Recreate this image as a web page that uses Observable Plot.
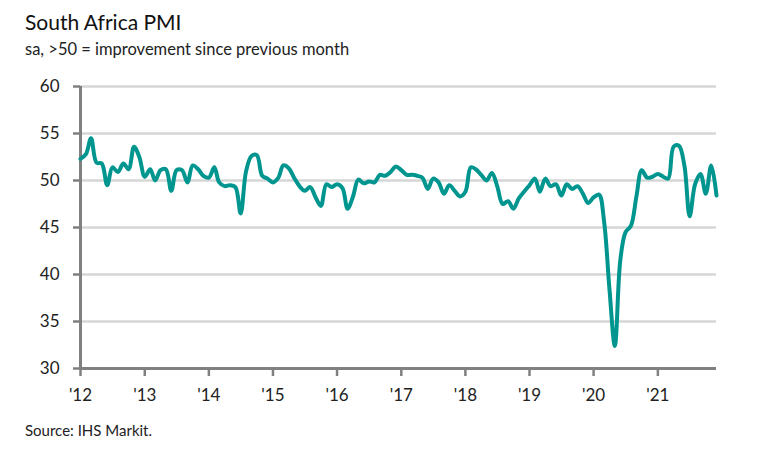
<!DOCTYPE html>
<html>
<head>
<meta charset="utf-8">
<script src="https://cdn.jsdelivr.net/npm/d3@7"></script>
<script src="https://cdn.jsdelivr.net/npm/@observablehq/plot@0.6"></script>
<style>
  html, body { margin: 0; padding: 0; background: #fff; }
  body { width: 767px; height: 463px; position: relative; overflow: hidden; font-family: Lato, "Noto Sans", sans-serif; }
  .t { position: absolute; left: 25px; white-space: nowrap; line-height: 1; }
  #title { top: 11px; font-size: 21px; color: #111; }
  #subtitle { top: 41px; font-size: 16.5px; color: #222; }
  #source { top: 423px; font-size: 15px; color: #222; }
  #chart { position: absolute; left: 0; top: 66px; }
</style>
</head>
<body>
<div class="t" id="title">South Africa PMI</div>
<div class="t" id="subtitle">sa, &gt;50 = improvement since previous month</div>
<div id="chart"></div>
<div class="t" id="source">Source: IHS Markit.</div>
<script>
const startYear = 2012;
const pmi2012 = [52.3, 52.8, 54.5, 51.9, 51.8, 49.5, 51.4, 50.9, 51.8, 51.2, 53.6, 52.5];
const pmi2013 = [50.4, 51.2, 50.0, 51.1, 51.2, 48.9, 51.1, 51.1, 49.8, 51.6, 51.2, 50.5];
const pmi2014 = [50.3, 51.4, 49.8, 49.4, 49.5, 49.3, 46.5, 51.0, 52.6, 52.7, 50.5, 50.2];
const pmi2015 = [49.8, 50.3, 51.6, 51.3, 50.3, 49.4, 48.9, 49.3, 48.2, 47.3, 49.6, 49.3];
const pmi2016 = [49.6, 49.2, 47.0, 48.3, 50.1, 49.7, 49.9, 49.8, 50.6, 50.5, 50.9, 51.5];
const pmi2017 = [51.1, 50.6, 50.6, 50.5, 50.3, 49.1, 50.2, 49.8, 48.6, 49.5, 48.9, 48.3];
const pmi2018 = [48.8, 51.4, 51.2, 50.6, 50.0, 50.8, 49.4, 47.5, 47.8, 47.0, 48.1, 48.8];
const pmi2019 = [49.5, 50.2, 48.8, 50.2, 49.4, 49.6, 48.4, 49.6, 49.1, 49.4, 48.6, 47.6];
const pmi2020 = [48.2, 48.5, 45.6, 38.3, 32.4, 41.5, 44.5, 45.2, 48.3, 51.1, 50.3, 50.4];
const pmi2021 = [50.7, 50.4, 50.2, 53.6, 53.7, 51.6, 46.2, 49.6, 50.7, 48.6, 51.6, 48.4];
const yTicks = [30, 35, 40, 45, 50, 55, 60];
const xTickYears = [2012, 2013, 2014, 2015, 2016, 2017, 2018, 2019, 2020, 2021];
const xTickLabels = ["'12", "'13", "'14", "'15", "'16", "'17", "'18", "'19", "'20", "'21"];

const series = [pmi2012, pmi2013, pmi2014, pmi2015, pmi2016, pmi2017, pmi2018, pmi2019, pmi2020, pmi2021];
const data = [];
series.forEach((vals, yi) => vals.forEach((v, m) => data.push({date: new Date(Date.UTC(startYear + yi, m, 1)), value: v})));
const xTicks = xTickYears.map(y => new Date(Date.UTC(y, 0, 1)));
const xDomain = [data[0].date, data[data.length - 1].date];
const axisGrey = "#808080";

const chart = Plot.plot({
  width: 767,
  height: 342,
  marginLeft: 80,
  marginRight: 51,
  marginTop: 20,
  marginBottom: 40,
  style: {fontFamily: "Lato, 'Noto Sans', sans-serif", fontSize: "17px", color: "#222", background: "#fff"},
  x: {type: "utc", domain: xDomain},
  y: {domain: [30, 60]},
  marks: [
    Plot.gridY(yTicks.filter(d => d > 30), {stroke: "#d6d6d6", strokeWidth: 2.5, strokeOpacity: 1}),
    Plot.axisY(yTicks, {tickSize: 7, tickPadding: 14, stroke: axisGrey, strokeWidth: 2.5, fill: "#222", fontSize: 17, label: null}),
    Plot.axisX(xTicks, {tickSize: 8, tickPadding: 12, stroke: axisGrey, strokeWidth: 2.5, fill: "#222", fontSize: 17, label: null,
      tickFormat: d => xTickLabels[xTickYears.indexOf(d.getUTCFullYear())]}),
    Plot.ruleX([xDomain[0]], {stroke: axisGrey, strokeWidth: 3}),
    Plot.ruleY([30], {stroke: axisGrey, strokeWidth: 3}),
    Plot.line(data, {x: "date", y: "value", stroke: "#00968f", strokeWidth: 4, curve: "catmull-rom", strokeLinejoin: "round", strokeLinecap: "round"})
  ]
});
document.getElementById("chart").appendChild(chart);
</script>
</body>
</html>
